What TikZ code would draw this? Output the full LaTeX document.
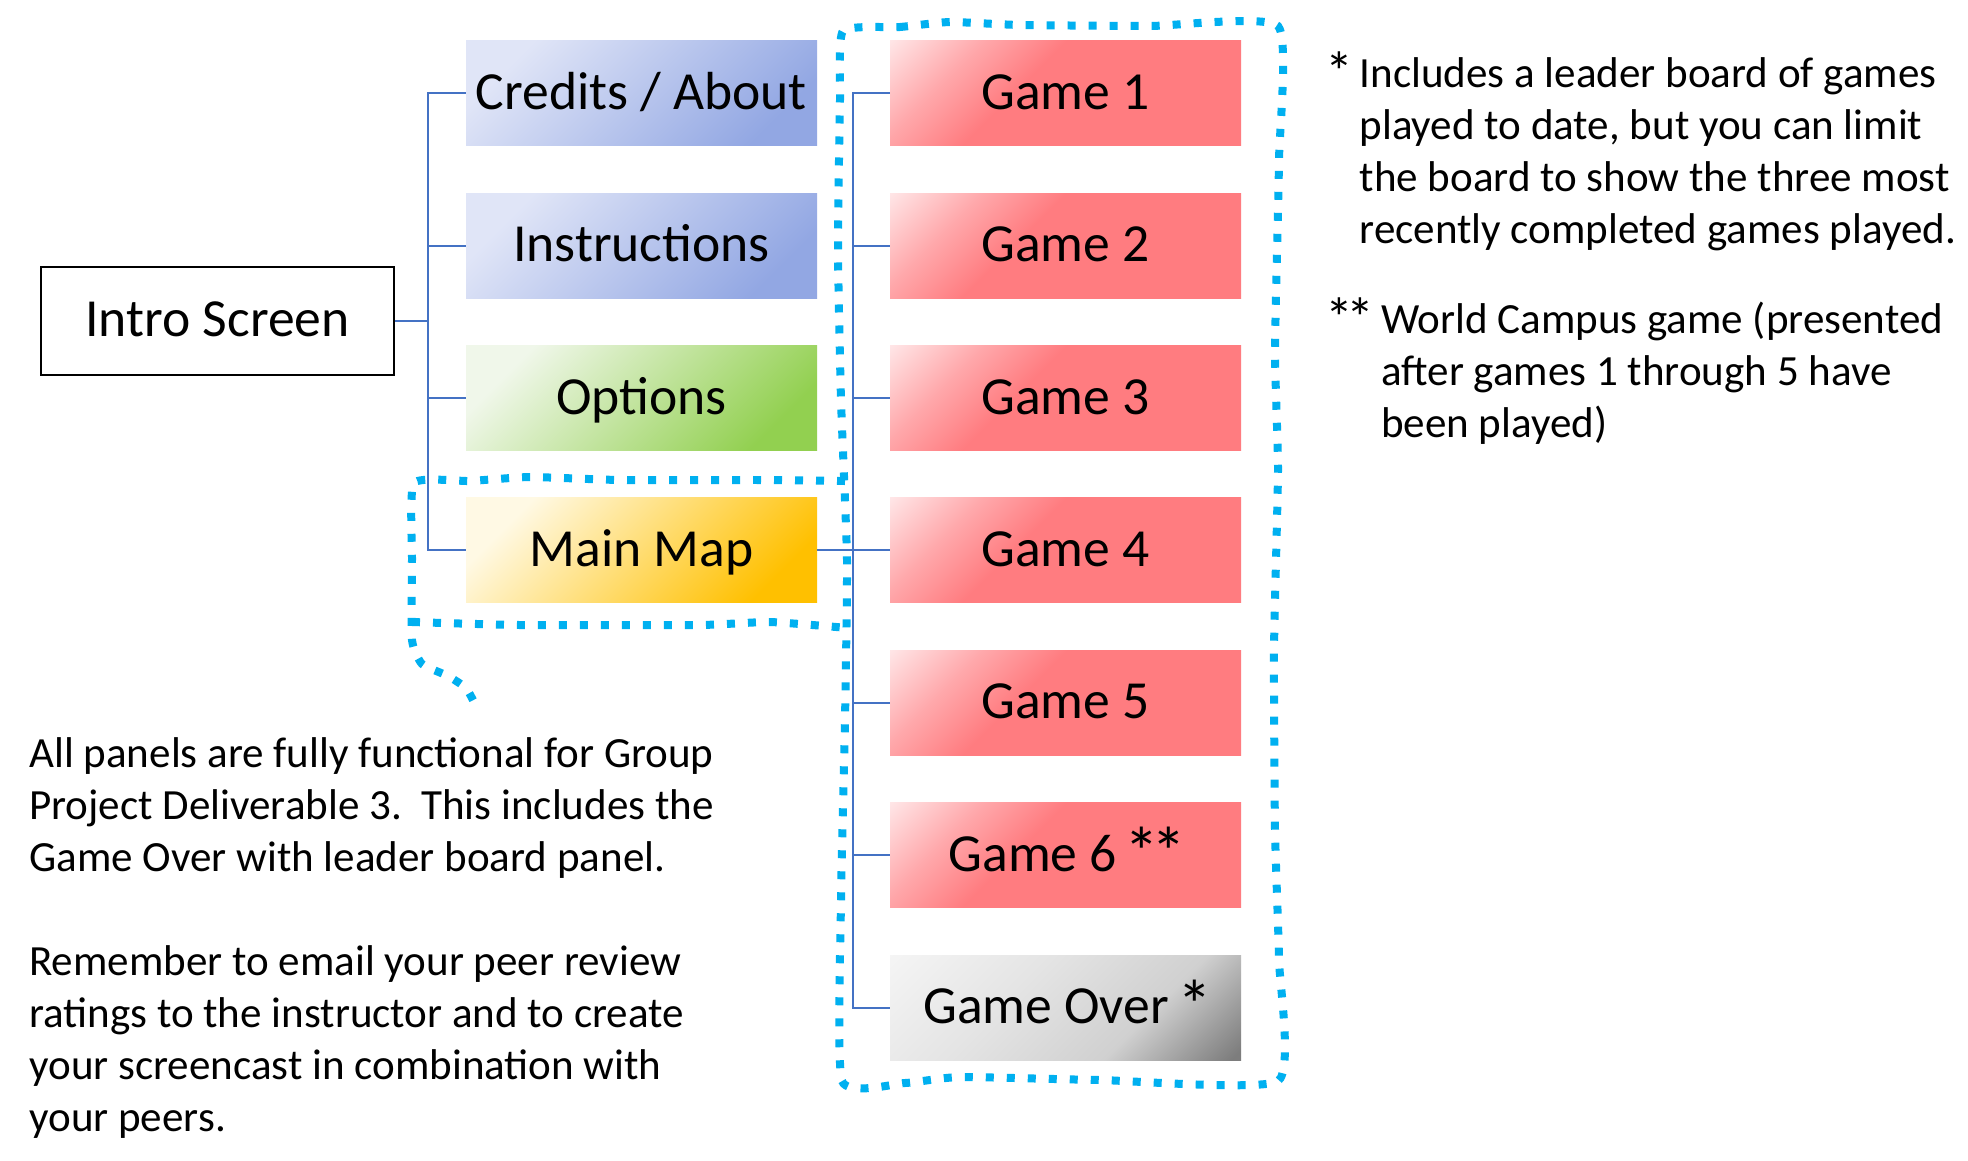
\documentclass[tikz,border=0pt]{standalone}
\usepackage{fontspec}
\setmainfont{Carlito}
\usetikzlibrary{positioning}
\definecolor{linkblue}{RGB}{68,114,196}
\definecolor{dotblue}{RGB}{0,176,240}
\definecolor{menublue}{RGB}{146,167,227}
\definecolor{menubluepale}{RGB}{224,229,247}
\definecolor{optgreen}{RGB}{146,208,80}
\definecolor{optgreenpale}{RGB}{240,247,234}
\definecolor{mapgold}{RGB}{255,192,0}
\definecolor{mapgoldpale}{RGB}{255,249,228}
\definecolor{gamered}{RGB}{255,124,128}
\definecolor{gamepink}{RGB}{255,168,171}
\definecolor{gamepale}{RGB}{255,232,233}
\definecolor{overdark}{RGB}{125,125,125}
\definecolor{overmid}{RGB}{208,208,208}
\definecolor{overlight}{RGB}{228,228,228}
\definecolor{overpale}{RGB}{245,245,245}
\pgfdeclareverticalshading{gamefade}{100bp}{color(0bp)=(gamered); color(58bp)=(gamered);
  color(71bp)=(gamepink); color(86bp)=(gamepale); color(100bp)=(gamepale)}
\pgfdeclareverticalshading{overfade}{100bp}{color(0bp)=(overdark); color(16bp)=(overdark);
  color(36bp)=(overmid); color(60bp)=(overlight); color(86bp)=(overpale); color(100bp)=(overpale)}
\newcommand{\panelfont}{\fontsize{30.5}{36.6}\selectfont}
\newcommand{\notefont}{\fontsize{24.5}{29.6}\selectfont}
\newcommand{\starmark}{\makebox[0.5em]{\raisebox{-0.1em}{\scalebox{1.3}{*}}}}
\tikzset{
  panel/.style={minimum width=70.2mm,minimum height=21mm,inner sep=0pt,
    font=\panelfont,text height=18.3pt,text depth=0pt},
  fade panel/.style={panel,top color=#1pale,bottom color=#1,shading angle=45},
  fade panel/.default=menublue,
  game panel/.style={panel,shade,shading=gamefade,shading angle=45},
  over panel/.style={panel,shade,shading=overfade,shading angle=45},
  screen/.style={draw=black,line width=1.15pt,fill=white,minimum width=70.7mm,
    minimum height=21.7mm,inner sep=0pt,font=\panelfont,text height=18.3pt,text depth=0pt},
  link/.style={draw=linkblue,line width=1.1pt},
  dotframe/.style={draw=dotblue,line width=4.55pt,dash pattern=on 4.55pt off 7.4pt},
  note/.style={font=\notefont,inner sep=0pt,align=left}
}

\begin{document}
\begin{tikzpicture}[x=0.2mm,y=-0.2mm]
  \path[use as bounding box,fill=white] (0,0) rectangle (1968,1160);
  % screens
  \node[screen] (intro) at (217.5,320.8) {Intro Screen};
  \node[fade panel] (credits) at (641.5,93.2) {Credits / About};
  \node[fade panel,below=9.34mm of credits] (instr) {Instructions};
  \node[fade panel=optgreen,below=9.34mm of instr] (options) {Options};
  \node[fade panel=mapgold,below=9.34mm of options] (mainmap) {Main Map};
  \node[game panel] (g1) at (1065.5,93.2) {Game 1};
  \foreach \i [remember=\i as \prev (initially 1)] in {2,...,5}
    \node[game panel,below=9.34mm of g\prev] (g\i) {Game \i};
  \node[game panel,below=9.34mm of g5] (g6) {Game 6 \starmark\starmark};
  \node[over panel,below=9.34mm of g6] (over) {Game Over \starmark};
  % connectors
  \coordinate (lbus) at (428.3,0);
  \coordinate (rbus) at (852.7,0);
  \foreach \n in {credits,instr,options,mainmap}
    \draw[link] (intro.east) -- (intro.east -| lbus) |- (\n.west);
  \foreach \n in {g1,g2,g3,g4,g5,g6,over}
    \draw[link] (mainmap.east) -- (mainmap.east -| rbus) |- (\n.west);
  % dotted frames
  \draw[dotframe] plot[smooth cycle,tension=0.3] coordinates {(843,31) (900,27) (950,22) (1020,25)
    (1150,26) (1278,26) (1279,160) (1275,350) (1278,470) (1274,650) (1275,830) (1279,960)
    (1278,1081) (1100,1080) (960,1077) (905,1083) (842,1081) (841,900) (845,720) (847,560)
    (841,400) (838,250) (840,100)};
  \draw[dotframe] plot[smooth,tension=0.3] coordinates {(845,481) (760,480) (620,480) (530,477)
    (470,481) (414,483) (412,560) (412,640) (422,664) (448,676) (466,688) (475,704)};
  \draw[dotframe] plot[smooth,tension=0.3] coordinates {(412,622) (520,625) (700,625) (770,622)
    (848,628)};
  % notes
  \node[note,anchor=base west] (leadnote) at (1328,87) {\begin{tabular}[t]{@{}l@{\ }l@{}}
    \starmark&Includes a leader board of games\\&played to date, but you can limit\\
    &the board to show the three most\\&recently completed games played.\end{tabular}};
  \node[note,anchor=base west] (campusnote) at (1328,333) {\begin{tabular}[t]{@{}l@{\ }l@{}}
    \starmark\starmark&World Campus game (presented\\&after games 1 through 5 have\\
    &been played)\end{tabular}};
  \node[note,anchor=base west] (remark) at (29,767) {\begin{tabular}[t]{@{}l@{}}
    All panels are fully functional for Group\\Project Deliverable 3.\ \ This includes the\\
    Game Over with leader board panel.\\ \\Remember to email your peer review\\
    ratings to the instructor and to create\\your screencast in combination with\\
    your peers.\end{tabular}};
\end{tikzpicture}
\end{document}
